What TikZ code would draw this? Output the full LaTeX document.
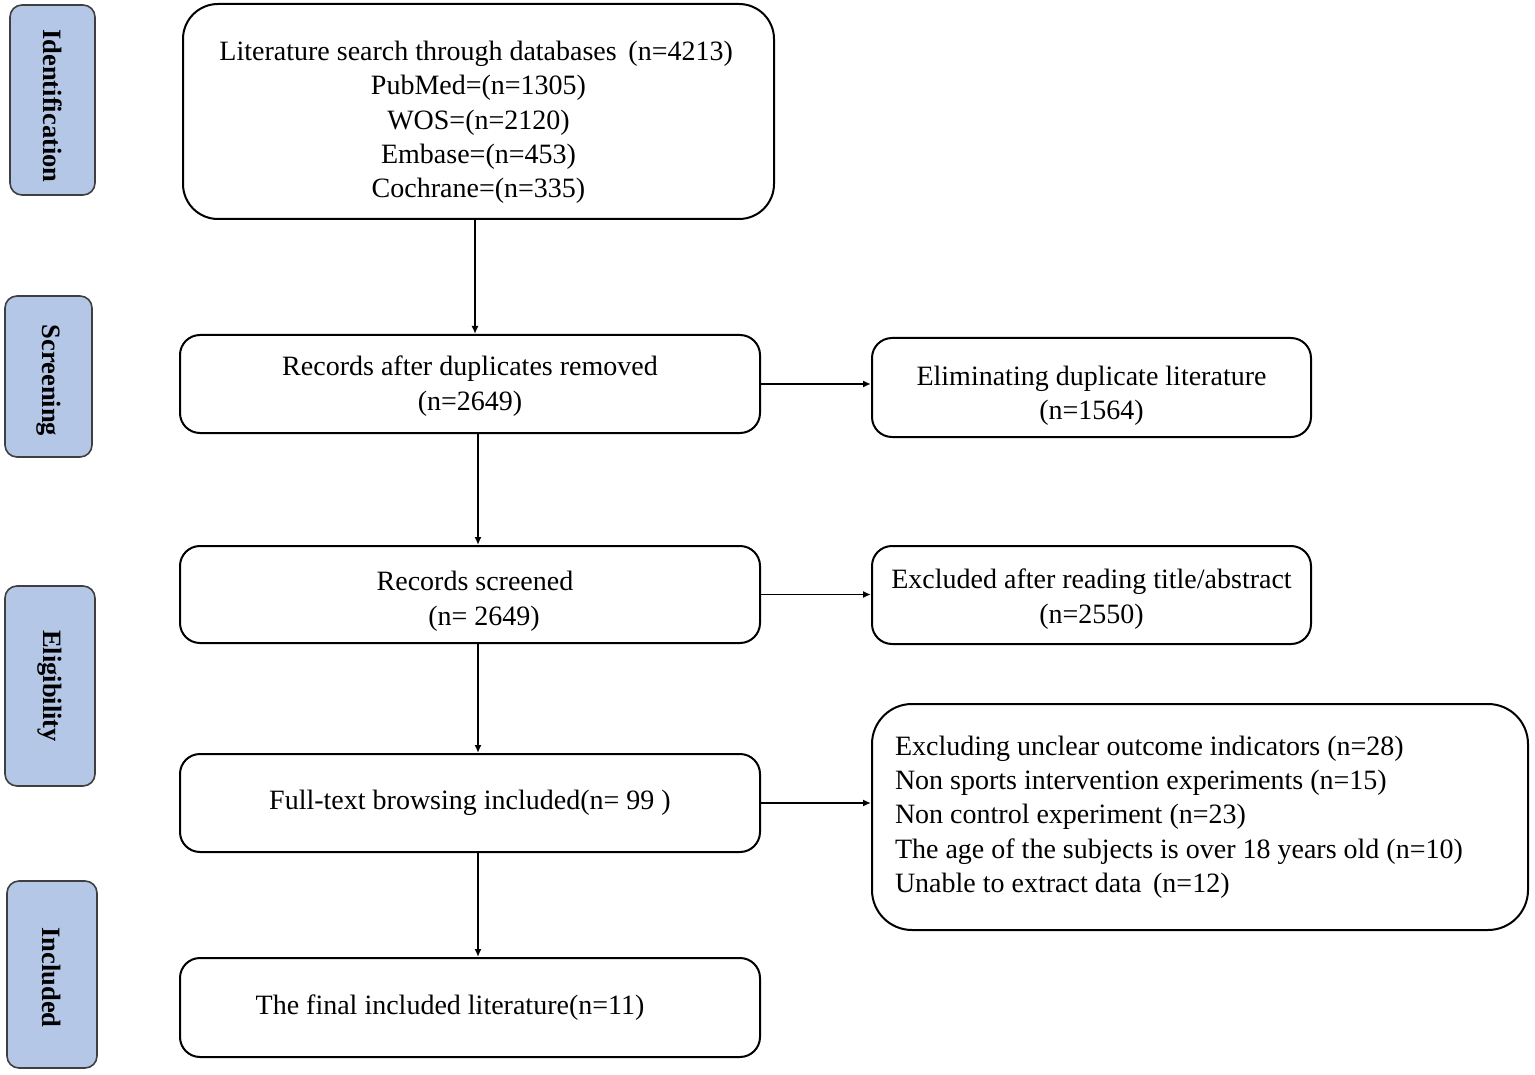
\documentclass[tikz,border=0pt]{standalone}
\usepackage{fontspec}
\setmainfont{Liberation Serif}
\usetikzlibrary{arrows.meta}
\definecolor{sidefill}{HTML}{B4C7E7}
\definecolor{sideline}{HTML}{3F3F3F}
\newcommand{\dn}[1]{\rule{0pt}{#1pt}}
\begin{document}
\begin{tikzpicture}[x=1pt,y=-1pt,
  box/.style={draw=black, line width=2pt, rounded corners=20pt, align=center,
    font=\fontsize{28}{34.3}\selectfont, inner sep=0pt},
  side/.style={draw=sideline, line width=1.6pt, fill=sidefill, rounded corners=12pt,
    rotate=-90, font=\fontsize{26.5}{30}\selectfont\bfseries, inner sep=0pt},
  arr/.style={line width=1.8pt, -{Latex[length=8pt,width=7pt]}}]
\useasboundingbox (0,0) rectangle (1535,1075);
% side labels
\node[side, minimum width=190pt, minimum height=85pt] (s1) at (52.5,100) {\hspace*{12pt}Identification};
\node[side, minimum width=161pt, minimum height=87pt] (s2) at (48.5,376.5) {\hspace*{8pt}Screening};
\node[side, minimum width=200pt, minimum height=90pt] (s3) at (50,686) {Eligibility};
\node[side, minimum width=187pt, minimum height=90pt] (s4) at (52,974.5) {\hspace*{6pt}Included};
% main boxes
\node[box, rounded corners=35pt, minimum width=591pt, minimum height=215pt] (b1) at (478.5,111.5)
  {\dn{41}Literature search through databases~\,(n=4213)\,\\PubMed=(n=1305)\\WOS=(n=2120)\\Embase=(n=453)\\Cochrane=(n=335)};
\node[box, minimum width=580pt, minimum height=98pt] (b2) at (470,384)
  {\dn{24}Records after duplicates removed\\(n=2649)};
\node[box, minimum width=439pt, minimum height=99pt] (b3) at (1091.5,387.5)
  {\dn{36}Eliminating duplicate literature\\\,(n=1564)\,};
\node[box, minimum width=580pt, minimum height=97pt] (b4) at (470,594.5)
  {\dn{33}\hspace*{10pt}Records screened\\\hspace*{28pt}(n= 2649)};
\node[box, minimum width=439pt, minimum height=98pt] (b5) at (1091.5,595)
  {\dn{28}Excluded after reading title/abstract\\(n=2550)};
\node[box, minimum width=580pt, minimum height=98pt] (b6) at (470,803)
  {Full-text browsing included(n= 99 )};
\node[box, rounded corners=40pt, minimum width=656pt, minimum height=226pt, align=flush left,
  text width=610pt, inner xsep=23pt] (b7) at (1200,817)
  {Excluding unclear outcome indicators (n=28)\\Non sports intervention experiments (n=15)\\Non control experiment (n=23)\\The age of the subjects is over 18 years old (n=10)\\Unable to extract data~\,(n=12)};
\node[box, minimum width=580pt, minimum height=99pt] (b8) at (470,1007.5)
  {The final included literature(n=11)\hspace*{40pt}};
% connectors
\coordinate (xa) at (475,0);
\coordinate (xb) at (478,0);
\draw[arr] (b1.south -| xa) -- (b2.north -| xa);
\draw[arr] (b2.south -| xb) -- (b4.north -| xb);
\draw[arr] (b4.south -| xb) -- (b6.north -| xb);
\draw[arr] (b6.south -| xb) -- (b8.north -| xb);
\draw[arr] (b2.east) -- (b2.east -| b3.west);
\draw[arr] (b4.east) -- (b4.east -| b5.west);
\draw[arr] (b6.east) -- (b6.east -| b7.west);
\end{tikzpicture}
\end{document}
